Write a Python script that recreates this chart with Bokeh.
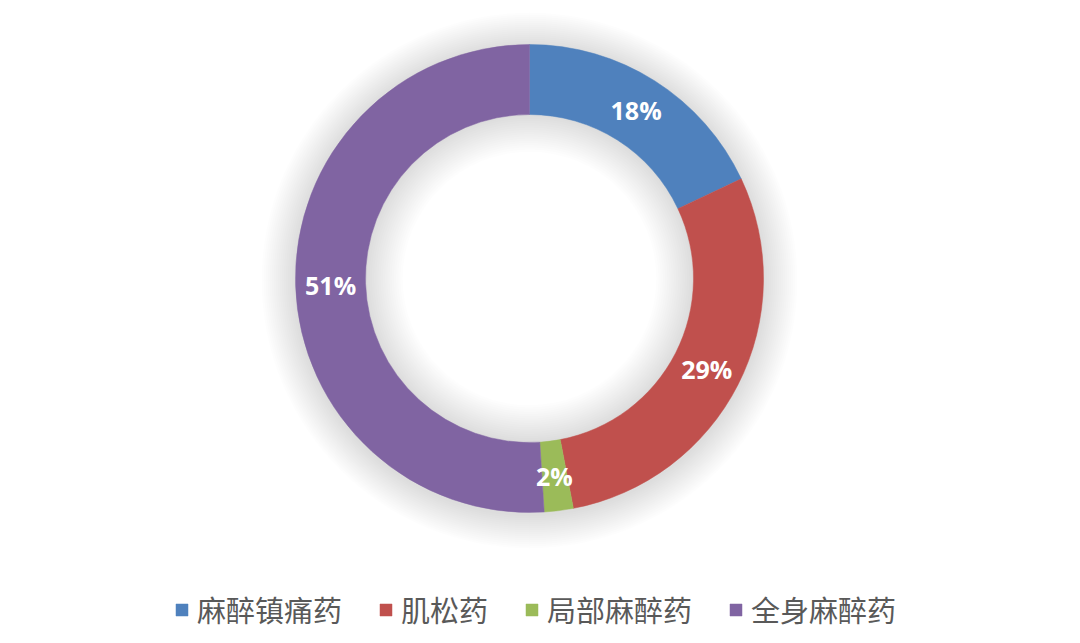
import numpy as np
from bokeh.plotting import figure
from bokeh.models import ColumnDataSource, Range1d, Legend, LegendItem
from bokeh.core.properties import value
from bokeh.embed import file_html
from bokeh.resources import INLINE

categories = ["麻醉镇痛药", "肌松药", "局部麻醉药", "全身麻醉药"]
shares = [18, 29, 2, 51]
pct_labels = ["18%", "29%", "2%", "51%"]
colors = ["#4F81BD", "#C0504D", "#9BBB59", "#8064A2"]

W, H = 1064, 635
cx, cy = 529, 357
r_out, r_in = 234, 164

frac = np.array(shares, dtype=float) / sum(shares)
cum = np.concatenate([[0.0], np.cumsum(frac)])
start = np.pi / 2 - 2 * np.pi * cum[1:]
end = np.pi / 2 - 2 * np.pi * cum[:-1]
mid = (start + end) / 2
r_lab = (r_out + r_in) / 2

src = ColumnDataSource(dict(
    cat=categories, start=start, end=end, color=colors,
    lx=cx + r_lab * np.cos(mid), ly=cy + r_lab * np.sin(mid), lab=pct_labels,
))

p = figure(width=W, height=H, output_backend="svg", toolbar_location=None,
           x_range=Range1d(0, W), y_range=Range1d(0, H), min_border=0,
           background_fill_color="white", border_fill_color="white")
p.axis.visible = False
p.grid.visible = False
p.outline_line_color = None

# soft shadow outside ring
for k in range(1, 18):
    p.annulus(x=cx, y=cy - 2, inner_radius=r_out - 3, outer_radius=r_out + k * 2,
              fill_color="black", fill_alpha=0.009, line_color=None)
# soft shading inside the hole
for k in range(1, 18):
    p.annulus(x=cx, y=cy, inner_radius=r_in - k * 2.2, outer_radius=r_in + 3,
              fill_color="black", fill_alpha=0.008, line_color=None)

wr = p.annular_wedge(x=cx, y=cy, inner_radius=r_in, outer_radius=r_out,
                     start_angle="start", end_angle="end", direction="anticlock",
                     fill_color="color", line_color="color", line_width=0.5, source=src)

p.text(x="lx", y="ly", text="lab", source=src, text_color="white",
       text_font=value("Open Sans"), text_font_style="bold", text_font_size="25px",
       text_align="center", text_baseline="middle")

items = [LegendItem(label=categories[i], renderers=[wr], index=i) for i in range(len(categories))]
legend = Legend(items=items, orientation="horizontal", location=(174, 5),
                glyph_width=15, glyph_height=15, label_standoff=8, spacing=36,
                padding=0, margin=0, border_line_color=None, background_fill_alpha=0,
                label_text_font="Noto Sans CJK SC", label_text_font_size="29px",
                label_text_color="#595959")
p.add_layout(legend)

open("out.html", "w").write(file_html(p, INLINE))
